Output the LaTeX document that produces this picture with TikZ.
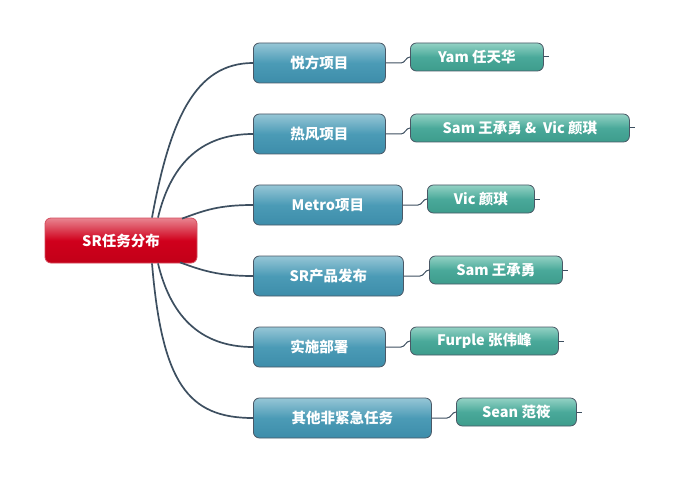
\documentclass[tikz,border=0pt]{standalone}
\usepackage{fontspec}
\setmainfont{Noto Sans CJK SC}
\usetikzlibrary{calc}
\definecolor{edgec}{HTML}{3D4F60}
\definecolor{bordc}{HTML}{4A5866}
\definecolor{redtop}{HTML}{E88590}
\definecolor{redmid}{HTML}{D0001C}
\definecolor{redbot}{HTML}{C20018}
\definecolor{bluetop}{HTML}{96C6D6}
\definecolor{bluemid}{HTML}{4B9BB6}
\definecolor{bluebot}{HTML}{3D8DAA}
\definecolor{greentop}{HTML}{93D2C4}
\definecolor{greenmid}{HTML}{4AA99A}
\definecolor{greenbot}{HTML}{3D9C8C}
\tikzset{
  base/.style={rounded corners=6pt, draw=bordc, line width=0.8pt, text=white,
    font=\fontsize{14.5}{16}\selectfont\bfseries, inner sep=0pt},
  rootbox/.style={base, draw=redbot!70!white, top color=redtop, bottom color=redbot, middle color=redmid,
    minimum width=152pt, minimum height=45pt},
  topicbox/.style={base, top color=bluetop, bottom color=bluebot, middle color=bluemid,
    minimum height=40pt, anchor=west},
  leafbox/.style={base, top color=greentop, bottom color=greenbot, middle color=greenmid,
    minimum height=28pt, anchor=west},
  mainedge/.style={draw=edgec, line width=1.7pt},
  subedge/.style={draw=edgec, line width=1pt},
}
\begin{document}
\begin{tikzpicture}[x=1pt,y=-1pt]
\useasboundingbox (0,0) rectangle (674,481);
\node[rootbox] (root) at (121,240.5) {SR任务分布};

\node[topicbox, minimum width=132pt] (b1) at (253,63) {悦方项目};
\node[topicbox, minimum width=132pt] (b2) at (253,134) {热风项目};
\node[topicbox, minimum width=149pt] (b3) at (253,205) {Metro项目};
\node[topicbox, minimum width=150pt] (b4) at (253,276) {SR产品发布};
\node[topicbox, minimum width=132pt] (b5) at (253,347) {实施部署};
\node[topicbox, minimum width=178pt] (b6) at (253,418) {其他非紧急任务};

\node[leafbox, minimum width=133pt] (g1) at (410,57) {Yam 任天华};
\node[leafbox, minimum width=219pt] (g2) at (410,128) {Sam 王承勇 \&\ \ Vic 颜琪};
\node[leafbox, minimum width=107pt] (g3) at (427,199) {Vic 颜琪};
\node[leafbox, minimum width=133pt] (g4) at (429,270) {Sam 王承勇};
\node[leafbox, minimum width=148pt] (g5) at (410,341) {Furple 张伟峰};
\node[leafbox, minimum width=120pt] (g6) at (456,412) {Sean 范筱};

% root to topics
\draw[mainedge] ([xshift=31pt]root.north) .. controls +(18,-98) and +(-58,0) .. (b1.west);
\draw[mainedge] ([xshift=37pt]root.north) .. controls +(12,-50) and +(-55,0) .. (b2.west);
\draw[mainedge] ([xshift=61pt,yshift=-1pt]root.north) .. controls +(22,-8) and +(-35,0) .. (b3.west);
\draw[mainedge] ([xshift=59pt,yshift=1pt]root.south) .. controls +(22,8) and +(-35,0) .. (b4.west);
\draw[mainedge] ([xshift=37pt]root.south) .. controls +(12,50) and +(-55,0) .. (b5.west);
\draw[mainedge] ([xshift=31pt]root.south) .. controls +(10,120) and +(-65,0) .. (b6.west);

% topics to leaves
\foreach \i in {1,...,6}{
  \draw[subedge] (b\i.east) -- ($(g\i.west)+(-9,6)$) .. controls +(4,0) and +(-4,0) .. (g\i.west);
  \draw[subedge] (g\i.east) -- ++(5,0);
}
\end{tikzpicture}
\end{document}
